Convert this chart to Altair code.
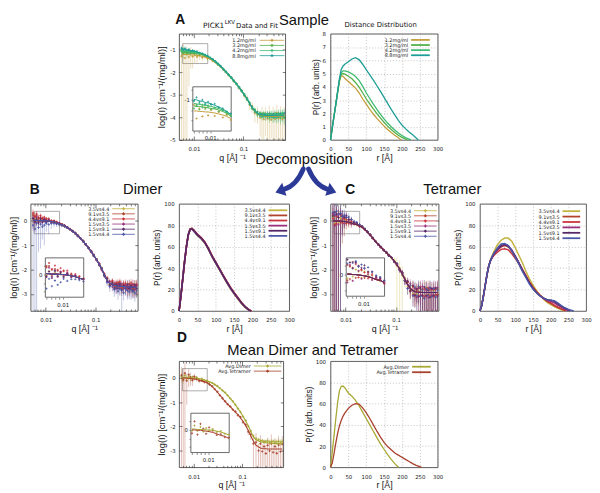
import math
import altair as alt
import pandas as pd

FONT = "DejaVu Sans"
TFONT = "Liberation Sans"
ARROW_BLUE = "#2c3a97"

# ---------------- SAXS data (log(I) vs q) ----------------
Q = [0.0056, 0.0061, 0.0066, 0.0072, 0.0079, 0.0086, 0.0094, 0.0103, 0.0115, 0.0130,
     0.0147, 0.0166, 0.0188, 0.0212, 0.0240, 0.0271, 0.0306, 0.0346, 0.0391, 0.0442,
     0.0500, 0.0565, 0.0638, 0.0721, 0.0815, 0.0921, 0.104, 0.118, 0.133, 0.150,
     0.170, 0.192, 0.217, 0.237, 0.258, 0.281, 0.306, 0.334, 0.364, 0.397,
     0.433, 0.472, 0.514, 0.560, 0.611, 0.666]

A_NAMES = ["1.2mg/ml", "3.2mg/ml", "4.2mg/ml", "8.8mg/ml"]
A_COLORS = ["#c49c3a", "#52b048", "#3dbb72", "#1d9d95"]

A_FIT = {
    "1.2mg/ml": [-1.22, -1.22, -1.22, -1.23, -1.23, -1.24, -1.24, -1.25, -1.26, -1.28,
                 -1.30, -1.33, -1.37, -1.42, -1.49, -1.57, -1.66, -1.77, -1.88, -2.00,
                 -2.12, -2.25, -2.39, -2.53, -2.68, -2.84, -3.01, -3.19, -3.39, -3.58,
                 -3.74, -3.85, -3.90, -3.92, -3.94, -3.95, -3.96, -3.96, -3.96, -3.96,
                 -3.96, -3.95, -3.95, -3.95, -3.95, -3.95],
    "3.2mg/ml": [-1.12, -1.12, -1.13, -1.13, -1.14, -1.15, -1.16, -1.17, -1.18, -1.20,
                 -1.23, -1.27, -1.32, -1.38, -1.46, -1.55, -1.65, -1.76, -1.87, -1.99,
                 -2.12, -2.25, -2.38, -2.52, -2.67, -2.83, -3.00, -3.18, -3.38, -3.57,
                 -3.72, -3.83, -3.88, -3.90, -3.91, -3.92, -3.93, -3.93, -3.93, -3.93,
                 -3.92, -3.92, -3.91, -3.91, -3.91, -3.91],
    "4.2mg/ml": [-1.06, -1.07, -1.08, -1.09, -1.10, -1.11, -1.12, -1.13, -1.15, -1.17,
                 -1.20, -1.25, -1.30, -1.37, -1.45, -1.54, -1.64, -1.75, -1.87, -1.99,
                 -2.11, -2.24, -2.38, -2.52, -2.67, -2.83, -3.00, -3.18, -3.38, -3.57,
                 -3.72, -3.82, -3.87, -3.89, -3.90, -3.91, -3.92, -3.92, -3.92, -3.92,
                 -3.92, -3.91, -3.91, -3.90, -3.90, -3.90],
    "8.8mg/ml": [-0.98, -0.99, -1.00, -1.02, -1.03, -1.05, -1.06, -1.08, -1.11, -1.14,
                 -1.18, -1.23, -1.29, -1.36, -1.44, -1.53, -1.63, -1.74, -1.86, -1.98,
                 -2.11, -2.24, -2.38, -2.52, -2.67, -2.83, -3.00, -3.18, -3.38, -3.57,
                 -3.72, -3.82, -3.87, -3.89, -3.90, -3.91, -3.92, -3.92, -3.92, -3.92,
                 -3.91, -3.91, -3.90, -3.90, -3.90, -3.90],
}
# measured scatter of the points around the fit (hundredths of a log unit)
A_DEV = {
    "1.2mg/ml": [-8, 12, -15, 6, -10, 9, -7, 5, -6, 4, -5, 3, -3, 2, -2, 1, -1, 2, -1, 1,
                 -1, 2, -2, 2, -3, 3, -4, 5, -6, 7, -8, 10, -12, 9, -14, 11, -10, 13, -15, 9,
                 -12, 14, -9, 12, -13, 10],
    "3.2mg/ml": [6, -5, 3, -6, 4, -3, 5, -2, 2, -3, 2, -1, 1, -2, 1, 1, -1, 0, -1, 1,
                 -1, 1, 0, -1, 1, -2, 2, -3, 3, -4, 6, -7, 5, -8, 9, -6, 7, -10, 8, -7,
                 10, -9, 7, -11, 8, -10],
    "4.2mg/ml": [-3, 5, -4, 2, -5, 3, -2, 4, -1, 2, -1, 1, -2, 1, 0, -1, 1, 0, 1, -1,
                 0, 1, -1, 1, 0, -1, 2, -2, 3, -3, 5, -4, 6, -7, 5, -6, 8, -5, 7, -9,
                 6, -8, 9, -6, 8, -7],
    "8.8mg/ml": [4, -3, 5, -2, 3, -4, 2, -1, 3, -2, 1, -1, 2, -1, 1, 0, -1, 1, 0, -1,
                 1, -1, 1, 0, -1, 1, -2, 2, -3, 3, -4, 5, -6, 4, -7, 6, -5, 8, -6, 7,
                 -9, 6, -8, 7, -5, 9],
}
# relative error of each point (percent)
A_REL = {
    "1.2mg/ml": [130, 115, 140, 105, 95, 80, 70, 60, 50, 40, 32, 26, 20, 16, 13, 11, 10, 9, 9, 9,
                 10, 11, 12, 14, 16, 20, 25, 32, 40, 50, 60, 70, 85, 95, 110, 90, 105, 120, 85, 115,
                 100, 125, 90, 110, 130, 95],
    "3.2mg/ml": [45, 40, 35, 30, 25, 20, 16, 13, 10, 8, 7, 6, 5, 5, 4, 4, 4, 4, 4, 4,
                 5, 5, 6, 7, 8, 10, 12, 14, 17, 20, 24, 27, 30, 32, 34, 36, 38, 40, 42, 44,
                 46, 48, 50, 52, 54, 56],
    "4.2mg/ml": [35, 30, 26, 22, 18, 15, 12, 10, 8, 6, 5, 5, 4, 4, 4, 3, 3, 3, 3, 3,
                 4, 4, 5, 5, 6, 7, 9, 11, 13, 16, 19, 22, 25, 27, 29, 31, 33, 35, 37, 39,
                 41, 43, 45, 47, 49, 51],
    "8.8mg/ml": [30, 25, 22, 18, 15, 12, 10, 8, 6, 5, 4, 4, 3, 3, 3, 3, 3, 3, 3, 3,
                 3, 4, 4, 5, 5, 6, 8, 10, 12, 14, 17, 20, 22, 24, 26, 28, 30, 32, 34, 36,
                 38, 40, 42, 44, 46, 48],
}

DIMER_FIT = [0.02, 0.02, 0.02, 0.01, 0.01, 0.01, 0.00, 0.00, -0.01, -0.03,
             -0.05, -0.08, -0.12, -0.16, -0.21, -0.27, -0.34, -0.42, -0.51, -0.61,
             -0.72, -0.84, -0.97, -1.11, -1.26, -1.42, -1.59, -1.78, -1.98, -2.22,
             -2.44, -2.56, -2.61, -2.64, -2.66, -2.67, -2.68, -2.69, -2.70, -2.70,
             -2.71, -2.71, -2.72, -2.72, -2.72, -2.72]
TETRAMER_FIT = [0.00, 0.00, 0.00, -0.01, -0.01, -0.02, -0.03, -0.04, -0.06, -0.09,
                -0.13, -0.15, -0.20, -0.26, -0.35, -0.46, -0.58, -0.71, -0.84, -0.97,
                -1.08, -1.19, -1.30, -1.41, -1.52, -1.65, -1.80, -1.98, -2.18, -2.40,
                -2.62, -2.78, -2.86, -2.90, -2.92, -2.93, -2.93, -2.94, -2.94, -2.94,
                -2.94, -2.94, -2.94, -2.94, -2.94, -2.94]

BC_NAMES = ["3.5vs4.4", "9.1vs3.5", "4.4vs9.1", "1.5vs3.5", "1.5vs9.1", "1.5vs4.4"]
BC_COLORS = ["#c2b33f", "#b2432b", "#c9343c", "#9a2f7c", "#552668", "#4957a6"]

B_DEV = {
    "3.5vs4.4": [5, -4, 6, -3, 4, -2, 3, -2, 2, -1, 1, -1, 1, 0, -1, 1, 0, -1, 1, 0,
                 -1, 1, 0, -1, 1, -1, 2, -2, 2, -3, 4, -5, 6, -4, 7, -6, 5, -8, 6, -7,
                 9, -6, 8, -7, 6, -9],
    "9.1vs3.5": [22, 15, 18, 10, 12, 8, 6, 9, 4, 3, 2, 3, 1, 2, 0, 1, -1, 1, 0, 1,
                 -1, 1, 0, -1, 2, -1, 2, -3, 3, -2, 8, -4, 12, 6, -5, 14, 9, -6, 11, 4,
                 -8, 13, 7, -5, 10, 6],
    "4.4vs9.1": [30, 18, 25, 12, 20, 10, 15, 8, 10, 5, 6, 4, 3, 2, 2, 1, 1, 0, 1, -1,
                 1, 0, -1, 1, -2, 2, -2, 3, -3, 4, 10, 5, 15, -3, 12, 8, 18, -4, 9, 14,
                 6, -5, 16, 10, -3, 12],
    "1.5vs3.5": [10, -8, 14, -5, 9, -6, 7, -4, 5, -3, 3, -2, 2, -1, 1, 0, -1, 1, 0, -1,
                 1, -1, 1, 0, -1, 2, -2, 3, -3, 4, -6, 8, -10, 5, -12, 7, -9, 11, -8, 6,
                 -11, 9, -7, 12, -10, 8],
    "1.5vs9.1": [8, -6, 5, -9, 7, -5, 4, -6, 3, -2, 2, -2, 1, -1, 1, 0, 0, -1, 1, 0,
                 -1, 1, -1, 1, 0, -1, 2, -2, 3, -3, 5, -9, 7, -12, 6, -10, 9, -14, 5, -8,
                 11, -7, 6, -12, 9, -6],
    "1.5vs4.4": [-20, -35, -12, -28, -15, -25, -18, -10, -14, -8, -6, -5, -4, -3, -2, -2, -1, -1, 0, -1,
                 0, -1, 1, -1, 0, -2, 1, -2, 2, -3, -8, -14, -6, -18, -10, -22, -12, -16, -25, -9,
                 -15, -20, -11, -18, -24, -13],
}
B_REL = {
    "3.5vs4.4": [40, 35, 30, 26, 22, 18, 15, 12, 10, 8, 6, 5, 5, 4, 4, 4, 3, 3, 3, 3,
                 3, 4, 4, 5, 6, 7, 8, 10, 12, 15, 20, 24, 28, 30, 32, 34, 36, 38, 40, 42,
                 44, 46, 48, 50, 52, 54],
    "9.1vs3.5": [50, 45, 40, 35, 30, 25, 20, 16, 13, 10, 8, 7, 6, 5, 5, 4, 4, 4, 3, 3,
                 4, 4, 5, 5, 6, 8, 10, 12, 15, 18, 22, 26, 30, 34, 36, 38, 40, 42, 44, 46,
                 48, 50, 52, 54, 56, 58],
    "4.4vs9.1": [45, 40, 36, 32, 28, 24, 20, 16, 13, 10, 8, 7, 6, 5, 5, 4, 4, 4, 3, 3,
                 4, 4, 5, 5, 6, 8, 10, 12, 15, 18, 22, 25, 28, 32, 35, 38, 40, 42, 44, 46,
                 48, 50, 52, 54, 56, 58],
    "1.5vs3.5": [70, 60, 55, 45, 40, 32, 26, 20, 16, 12, 10, 8, 7, 6, 5, 5, 4, 4, 4, 4,
                 4, 5, 5, 6, 7, 9, 11, 13, 16, 20, 26, 30, 34, 38, 40, 42, 44, 46, 48, 50,
                 52, 54, 55, 56, 57, 58],
    "1.5vs9.1": [60, 55, 48, 42, 36, 30, 24, 19, 15, 12, 10, 8, 7, 6, 5, 5, 4, 4, 4, 4,
                 4, 5, 5, 6, 7, 9, 11, 13, 16, 20, 25, 28, 32, 35, 38, 40, 42, 44, 46, 48,
                 50, 52, 53, 54, 55, 56],
    "1.5vs4.4": [180, 140, 160, 90, 90, 70, 85, 55, 60, 40, 30, 25, 20, 16, 12, 10, 8, 7, 6, 6,
                 6, 6, 7, 8, 9, 11, 13, 15, 18, 22, 30, 40, 35, 50, 45, 55, 48, 110, 52, 45,
                 58, 50, 62, 48, 56, 52],
}

C_DEV = {
    "3.5vs4.4": [15, -10, 20, -5, 12, 8, -6, 10, 4, -3, 3, -2, 2, -1, 1, 0, 1, -1, 0, 1,
                 -1, 1, -1, 2, -2, 3, -4, 5, -6, 4, -8, 10, -12, 15, -9, 13, -16, 11, -14, 18,
                 -10, 12, -15, 9, -13, 16],
    "9.1vs3.5": [25, -15, 18, 30, -8, 20, 12, -5, 10, 6, 4, 2, -2, 2, -1, 1, 0, -1, 1, 0,
                 1, -1, 1, -1, 2, -2, 3, -3, 4, -5, 10, -12, 15, -18, 8, 20, -14, 12, -20, 16,
                 -10, 18, -15, 12, -8, 14],
    "4.4vs9.1": [10, 22, -12, 16, 25, -6, 14, 8, -4, 9, 3, 5, -2, 3, -1, 1, 0, 1, -1, 0,
                 1, -1, 2, -1, 1, -2, 2, -3, 5, -4, 12, -8, 18, -14, 10, -16, 22, -10, 15, -12,
                 19, -14, 11, -17, 13, -9],
    "1.5vs3.5": [30, -20, 22, -15, 28, 10, -8, 18, 6, -5, 4, 3, -2, 2, 1, -1, 1, 0, -1, 1,
                 -1, 1, 0, -1, 2, -2, 3, -4, 4, -5, -15, 20, -18, 12, -22, 16, -12, 24, -16, 10,
                 -20, 14, -10, 18, -14, 20],
    "1.5vs9.1": [20, 35, 28, 15, 30, 22, 18, 25, 12, 15, 8, 6, 4, 3, 2, 1, 1, 0, -1, 1,
                 0, -1, 1, -2, 2, -2, 3, -3, 4, -6, 14, -10, 20, -16, 12, -18, 16, -12, 22, -14,
                 10, -20, 16, -12, 18, -15],
    "1.5vs4.4": [35, 25, 40, 28, 32, 20, 26, 18, 22, 14, 10, 8, 5, 4, 3, 2, 1, 1, 0, -1,
                 1, -1, 1, -2, 2, -3, 3, -4, 5, -6, -16, 12, -22, 18, -14, 24, -18, 10, -25, 15,
                 -12, 20, -17, 14, -21, 11],
}
C_REL = {
    "3.5vs4.4": [150, 120, 180, 110, 140, 90, 70, 60, 45, 30, 22, 16, 12, 10, 8, 7, 6, 6, 6, 6,
                 7, 8, 9, 11, 14, 30, 120, 105, 140, 60, 50, 55, 60, 65, 70, 75, 80, 85, 90, 95,
                 90, 85, 95, 80, 90, 100],
    "9.1vs3.5": [200, 160, 130, 110, 90, 75, 60, 45, 35, 25, 18, 14, 11, 9, 7, 6, 6, 5, 5, 5,
                 6, 7, 8, 9, 11, 13, 16, 20, 25, 30, 40, 50, 60, 65, 70, 75, 80, 85, 90, 95,
                 100, 90, 95, 85, 100, 90],
    "4.4vs9.1": [170, 150, 120, 100, 85, 70, 55, 42, 32, 24, 18, 14, 11, 9, 7, 6, 6, 5, 5, 5,
                 6, 7, 8, 9, 11, 13, 16, 20, 25, 30, 40, 50, 60, 65, 70, 75, 80, 85, 90, 95,
                 100, 90, 95, 85, 100, 90],
    "1.5vs3.5": [220, 180, 160, 130, 110, 90, 70, 55, 40, 30, 22, 16, 12, 10, 8, 7, 6, 6, 6, 6,
                 7, 8, 9, 10, 12, 14, 17, 21, 26, 32, 45, 55, 65, 70, 75, 80, 85, 90, 95, 100,
                 95, 100, 90, 105, 95, 100],
    "1.5vs9.1": [190, 150, 140, 120, 100, 80, 65, 50, 38, 28, 20, 15, 12, 10, 8, 7, 6, 6, 6, 6,
                 7, 8, 9, 10, 12, 14, 17, 21, 26, 32, 45, 55, 65, 70, 75, 80, 85, 90, 95, 100,
                 95, 100, 90, 105, 95, 100],
    "1.5vs4.4": [210, 170, 150, 120, 105, 85, 70, 55, 42, 32, 24, 18, 14, 11, 9, 8, 7, 6, 6, 6,
                 7, 8, 9, 11, 13, 15, 18, 22, 27, 33, 45, 55, 65, 70, 75, 80, 85, 90, 95, 100,
                 95, 100, 90, 105, 95, 100],
}

D_NAMES = ["Avg.Dimer", "Avg.Tetramer"]
D_COLORS = ["#a7a733", "#a8402c"]
D_DEV = {
    "Avg.Dimer": [5, -4, 8, -3, 6, -5, 4, -2, 3, -2, 2, -1, 1, -1, 1, 0, 1, 0, -1, 1,
                  0, -1, 1, 0, -1, 1, -1, 2, -2, 3, 4, 5, 6, 3, 7, 4, 6, 8, 5, 7,
                  9, 6, 8, 10, 7, 9],
    "Avg.Tetramer": [12, -8, 20, -10, 15, 5, -6, 10, 4, -3, 3, -2, 2, -1, 1, 0, 1, -1, 0, 1,
                     -1, 1, -1, 2, -2, 3, -3, 4, -5, 6, -10, 12, -15, 18, -12, 9, -20, 15, -8, 22,
                     -14, 10, -18, 16, -11, 20],
}
D_REL = {
    "Avg.Dimer": [45, 40, 35, 30, 25, 20, 16, 13, 10, 8, 6, 5, 5, 4, 4, 3, 3, 3, 3, 3,
                  3, 3, 4, 4, 5, 6, 7, 8, 10, 12, 14, 16, 18, 19, 20, 21, 22, 23, 24, 25,
                  26, 27, 28, 29, 30, 31],
    "Avg.Tetramer": [120, 200, 180, 90, 70, 55, 42, 32, 25, 20, 15, 12, 10, 8, 7, 6, 5, 5, 5, 5,
                     6, 7, 8, 9, 11, 13, 16, 20, 26, 40, 130, 140, 90, 120, 100, 85, 130, 110, 95, 140,
                     105, 120, 90, 135, 100, 115],
}

# ---------------- P(r) data ----------------
R_BASE = [0, 5, 10, 15, 20, 25, 30, 35, 40, 50, 60, 70, 80, 90, 100, 110, 120, 130, 140,
          150, 160, 170, 180, 190, 200, 210, 220, 230, 240, 250, 260]

PR_A = {  # (Dmax, values on R_BASE below Dmax)
    "1.2mg/ml": (198, [0, 0.9, 1.8, 2.7, 3.6, 4.4, 4.85, 4.8, 4.65, 4.4, 4.15, 3.9, 3.55, 3.1,
                       2.7, 2.3, 1.95, 1.62, 1.32, 1.04, 0.78, 0.55, 0.35, 0.16]),
    "3.2mg/ml": (215, [0, 0.9, 1.8, 2.7, 3.6, 4.45, 4.95, 5.0, 4.95, 4.8, 4.6, 4.33, 3.98, 3.55,
                       3.1, 2.72, 2.34, 1.98, 1.64, 1.33, 1.04, 0.78, 0.55, 0.35, 0.19, 0.07]),
    "4.2mg/ml": (225, [0, 0.9, 1.8, 2.7, 3.6, 4.5, 5.05, 5.2, 5.2, 5.12, 4.98, 4.78, 4.48, 4.05,
                       3.55, 3.12, 2.7, 2.3, 1.92, 1.58, 1.27, 0.99, 0.74, 0.52, 0.33, 0.17, 0.06]),
    "8.8mg/ml": (246, [0, 0.9, 1.8, 2.7, 3.65, 4.6, 5.3, 5.55, 5.7, 5.88, 6.1, 6.2, 6.05, 5.7,
                       5.3, 4.9, 4.5, 4.08, 3.65, 3.2, 2.75, 2.3, 1.88, 1.48, 1.12, 0.85, 0.6,
                       0.38, 0.14]),
}
PR_B = {
    "3.5vs4.4": (195, [0, 14, 30, 46, 60, 71, 76, 76.5, 75, 70.5, 67.5, 63.5, 57.5, 50.5, 44.5,
                       38.5, 32.5, 26.5, 21, 16, 11.5, 7, 3.4, 0.8]),
    "9.1vs3.5": (197, [0, 14, 30, 46, 60, 71, 76.5, 77, 75.5, 71.5, 68.5, 64.5, 58.5, 51.5, 45.5,
                       39.5, 33.5, 27.5, 22, 17, 12.5, 8, 4, 1.2]),
    "4.4vs9.1": (197, [0, 14, 30, 46, 60, 71, 76.5, 77, 75.5, 71.5, 68.5, 64.5, 58.5, 51.5, 45.5,
                       39.5, 33.5, 27.5, 22, 17, 12.5, 8, 4.1, 1.3]),
    "1.5vs3.5": (196, [0, 14, 30, 46, 60, 71, 76, 76.5, 75, 71, 68, 64, 58, 51, 45,
                       39, 33, 27, 21.5, 16.5, 12, 7.5, 3.8, 1.0]),
    "1.5vs9.1": (196, [0, 14, 30, 46, 60, 71, 76, 76.5, 75, 71, 68, 64, 58, 51, 45,
                       39, 33, 27, 21.5, 16.5, 12, 7.5, 3.8, 1.0]),
    "1.5vs4.4": (195, [0, 14, 30, 46, 60, 71, 76, 76.5, 74.5, 70.5, 67.5, 63.5, 57.5, 50.5, 44.5,
                       38.5, 32.5, 26.5, 21, 16, 11.5, 7.2, 3.5, 0.9]),
}
PR_C = {
    "3.5vs4.4": (238, [0, 5, 14, 24, 34, 42, 48, 52, 56, 62, 66, 68, 68, 65, 59, 52, 45, 37, 30,
                       24, 19, 15, 11, 8, 6, 4, 2.5, 1]),
    "9.1vs3.5": (240, [0, 5, 14, 24, 34, 42, 47, 50, 53, 57, 60, 61, 60, 56, 51, 45, 39, 33, 27,
                       22, 18, 14.5, 11.5, 9, 7, 5, 3.5, 2]),
    "4.4vs9.1": (242, [0, 5, 14, 24, 34, 42, 47, 50, 52, 55, 57.5, 58, 57, 53.5, 49, 44, 38, 32.5, 27,
                       22, 18, 14.5, 12, 9.5, 7.5, 5.5, 3.5, 2, 0.8]),
    "1.5vs3.5": (250, [0, 5, 14, 24, 34, 42, 47, 50, 53, 57, 60.5, 62, 61, 57, 51, 45, 38, 32, 26,
                       21, 17, 14, 11.5, 10, 9, 7.5, 5.5, 3.5, 1.8]),
    "1.5vs9.1": (255, [0, 5, 14, 24, 34, 42, 47, 51, 54, 58, 61, 62, 60.5, 56.5, 51, 45, 38, 32, 26,
                       21, 17, 14, 12, 10.5, 10, 9, 6.5, 4.5, 2.5, 1]),
    "1.5vs4.4": (265, [0, 5, 14, 24, 34, 42, 47, 51, 54, 59, 62.5, 63, 61, 56, 50, 44, 37, 31, 25,
                       20.5, 17, 14, 12, 10.5, 10, 9.5, 7.5, 5, 3, 1.5, 0.5]),
}
PR_D = {
    "Avg.Dimer": (190, [0, 14, 30, 46, 61, 72, 76, 76.5, 75, 70, 67, 63, 58, 52, 46, 40, 34, 28, 22,
                        17, 12, 7.5, 3.5]),
    "Avg.Tetramer": (255, [0, 4, 13, 23, 32, 39, 44, 48, 51, 55.5, 58.5, 60, 59.5, 56, 51.5, 46, 40,
                           34, 28.5, 23.5, 19.5, 16.5, 13.5, 11.5, 9.5, 7.5, 5.5, 3.5, 1.8, 0.6]),
}

XTICKS = [0.006, 0.007, 0.008, 0.009, 0.01, 0.02, 0.03, 0.04, 0.05, 0.06, 0.07, 0.08, 0.09,
          0.1, 0.2, 0.3, 0.4, 0.5, 0.6]
INSET_Q = [0.0059, 0.019]


def one(**kw):
    return pd.DataFrame({k: [v] for k, v in kw.items()})


def txt(s, x, y, size, font=TFONT, weight="normal", align="center", baseline="alphabetic", color="#111"):
    return alt.Chart(one(t=s)).mark_text(
        align=align, baseline=baseline, font=font, fontSize=size, fontWeight=weight, color=color
    ).encode(x=alt.value(x), y=alt.value(y), text="t:N")


def legend_layers(names, colors, leg, width, marker):
    tx, lx1, lx2, y0, dy = leg
    out = []
    for k, nm in enumerate(names):
        yk = y0 + k * dy
        df = one(label=nm)
        out.append(alt.Chart(df).mark_rule(strokeWidth=width, color=colors[k]).encode(
            x=alt.value(lx1), x2=alt.value(lx2), y=alt.value(yk)))
        out.append(alt.Chart(df).mark_text(align="right", baseline="middle", font=FONT, fontSize=5,
                                           color="#222").encode(
            x=alt.value(tx), y=alt.value(yk), text="label:N"))
        if marker:
            out.append(alt.Chart(df).mark_point(shape="cross", size=9, filled=True, opacity=1,
                                                color=colors[k]).encode(
                x=alt.value((lx1 + lx2) / 2), y=alt.value(yk)))
    return out


def saxs_panel(names, colors, fits, devs, rels, W, H, ydom, yvals, ibox, iydom, iyvals, ilabel,
               leg, annots, fit_order):
    cs = alt.Scale(domain=names, range=colors)
    xs = alt.Scale(type="log", domain=[0.005, 0.7], nice=False)
    ys = alt.Scale(domain=ydom, nice=False, zero=False)
    major = "datum.value == 0.01 || datum.value == 0.1"
    xa = alt.Axis(values=XTICKS,
                  labelExpr="datum.value == 0.01 ? '0.01' : (datum.value == 0.1 ? '0.1' : '')",
                  title="q [Å] ⁻¹", titleFontSize=9, labelPadding=7, titlePadding=1,
                  grid=True, gridColor="#222", gridWidth=0.6, gridOpacity=1,
                  gridDash={"condition": {"test": major, "value": [4, H - 8, 4, 600]},
                            "value": [2, H - 4, 2, 600]},
                  labelFlush=False, labelOverlap=False)
    ya = alt.Axis(values=yvals, labelExpr="'' + datum.value", title="log(I) [cm⁻¹/(mg/ml)]",
                  titleFontSize=9.5, labelPadding=4, titlePadding=3,
                  grid=True, gridColor="#222", gridWidth=0.6, gridOpacity=1,
                  gridDash=[3, W - 6, 3, 600], labelFlush=False, labelOverlap=False)

    prow, frow = [], []
    floor = ydom[0] - 1
    for nm in names:
        f, d, r = fits[nm], devs[nm], rels[nm]
        assert len(f) == len(Q) and len(d) == len(Q) and len(r) == len(Q), nm
        for i, q in enumerate(Q):
            y = f[i] + d[i] / 100.0
            rr = r[i] / 100.0
            hi = y + math.log10(1 + rr)
            lo = y + math.log10(1 - rr) if rr < 0.985 else floor
            prow.append({"series": nm, "q": q, "y": y, "lo": lo, "hi": hi})
            frow.append({"series": nm, "q": q, "y": f[i]})
    pts = pd.DataFrame(prow)
    fdf = pd.DataFrame(frow)
    col = alt.Color("series:N", scale=cs, legend=None)

    zr = alt.Chart(one(q1=INSET_Q[0], q2=INSET_Q[1], y1=iydom[0], y2=iydom[1])).mark_rect(
        fill="white", fillOpacity=0, stroke="#888", strokeWidth=0.7).encode(
        x=alt.X("q1:Q", scale=xs, axis=xa), x2="q2",
        y=alt.Y("y1:Q", scale=ys, axis=ya), y2="y2")
    eb = alt.Chart(pts).mark_rule(strokeWidth=0.55, opacity=0.6, clip=True).encode(
        x=alt.X("q:Q", scale=xs, axis=xa), y=alt.Y("lo:Q", scale=ys, axis=ya), y2="hi", color=col)
    pt = alt.Chart(pts).mark_point(shape="cross", size=6, filled=True, opacity=0.9, clip=True).encode(
        x=alt.X("q:Q", scale=xs, axis=xa), y=alt.Y("y:Q", scale=ys, axis=ya), color=col)
    fl = []
    for nm in fit_order:
        fl.append(alt.Chart(fdf[fdf.series == nm]).mark_line(
            strokeWidth=1.1, clip=True, color=colors[names.index(nm)]).encode(
            x=alt.X("q:Q", scale=xs, axis=xa), y=alt.Y("y:Q", scale=ys, axis=ya)))
    main = alt.layer(zr, eb, pt, *fl, *legend_layers(names, colors, leg, 0.8, True), *annots)

    # inset (zoom of the low-q region)
    ixs = alt.Scale(type="log", domain=INSET_Q, range=[ibox[0], ibox[1]], nice=False)
    iys = alt.Scale(domain=iydom, range=[ibox[3], ibox[2]], nice=False, zero=False)
    ixa = alt.Axis(orient="bottom", offset=-(H - ibox[3]), values=[0.006, 0.007, 0.008, 0.009, 0.01],
                   labelExpr="datum.value == 0.01 ? '0.01' : ''", title=None, grid=False,
                   ticks=True, tickSize=2, tickWidth=0.5, tickColor="#222", domain=False,
                   labelPadding=3, labelFlush=False, labelOverlap=False)
    iya = alt.Axis(orient="left", offset=-ibox[0], values=iyvals,
                   labelExpr="datum.value == %s ? '%s' : ''" % (ilabel, ilabel), title=None, grid=False,
                   ticks=True, tickSize=2, tickWidth=0.5, tickColor="#222", domain=False,
                   labelPadding=1.5, labelFlush=False, labelOverlap=False)
    ifr = alt.Chart(one(q1=INSET_Q[0], q2=INSET_Q[1], y1=iydom[0], y2=iydom[1])).mark_rect(
        fill="white", stroke="#444", strokeWidth=0.8).encode(
        x=alt.X("q1:Q", scale=ixs, axis=ixa), x2="q2",
        y=alt.Y("y1:Q", scale=iys, axis=iya), y2="y2")
    ip = pts[(pts.q >= INSET_Q[0]) & (pts.q <= INSET_Q[1]) & (pts.y >= iydom[0]) & (pts.y <= iydom[1])]
    ipt = alt.Chart(ip).mark_point(shape="cross", size=5, filled=True, opacity=0.9).encode(
        x=alt.X("q:Q", scale=ixs, axis=ixa), y=alt.Y("y:Q", scale=iys, axis=iya), color=col)
    ifl = []
    for nm in fit_order:
        sub = fdf[(fdf.series == nm) & (fdf.q >= INSET_Q[0]) & (fdf.q <= INSET_Q[1])]
        ifl.append(alt.Chart(sub).mark_line(strokeWidth=1.0, color=colors[names.index(nm)]).encode(
            x=alt.X("q:Q", scale=ixs, axis=ixa), y=alt.Y("y:Q", scale=iys, axis=iya)))
    inset = alt.layer(ifr, ipt, *ifl)
    return alt.layer(main, inset).resolve_scale(x="independent", y="independent").properties(
        width=W, height=H)


def pr_panel(names, colors, data, W, H, ymax, yvals, leg, annots, order, lw=1.3):
    xs = alt.Scale(domain=[0, 300], nice=False, zero=False)
    ys = alt.Scale(domain=[0, ymax], nice=False, zero=False)
    xa = alt.Axis(values=[0, 50, 100, 150, 200, 250, 300], format="d", title="r [Å]", titleFontSize=9,
                  labelPadding=7, titlePadding=1, grid=True, gridDash=[1, 2], gridColor="#888",
                  gridWidth=0.5, labelFlush=False, labelOverlap=False)
    ya = alt.Axis(values=yvals, format="d", title="P(r) (arb. units)", titleFontSize=8.5,
                  labelPadding=5, titlePadding=2, grid=True, gridDash=[1, 2], gridColor="#888",
                  gridWidth=0.5, labelFlush=False, labelOverlap=False)
    layers = []
    for nm in order:
        dmax, vals = data[nm]
        rs = [r for r in R_BASE if r < dmax]
        assert len(rs) == len(vals), nm
        df = pd.DataFrame({"r": rs + [dmax], "p": list(vals) + [0.0]})
        layers.append(alt.Chart(df).mark_line(strokeWidth=lw, color=colors[names.index(nm)]).encode(
            x=alt.X("r:Q", scale=xs, axis=xa), y=alt.Y("p:Q", scale=ys, axis=ya)))
    return alt.layer(*layers, *legend_layers(names, colors, leg, 1.8, False), *annots).properties(
        width=W, height=H)


# ---------------- decorations ----------------
ARROW_STROKE = "M -0.1 -0.45 Q -0.35 0.15 -0.8 0.3 M 0.1 -0.45 Q 0.35 0.15 0.8 0.3"
ARROW_HEADS = "M -1.13 0.42 L -0.72 0.54 L -0.88 0.06 Z M 1.13 0.42 L 0.72 0.54 L 0.88 0.06 Z"
arrow_body = alt.Chart(one(a=0)).mark_point(shape=ARROW_STROKE, size=3000, filled=False, opacity=1,
                                            stroke=ARROW_BLUE, strokeWidth=5, strokeCap="round").encode(
    x=alt.value(129), y=alt.value(150))
arrow_heads = alt.Chart(one(a=0)).mark_point(shape=ARROW_HEADS, size=3000, filled=True, opacity=1,
                                             color=ARROW_BLUE).encode(x=alt.value(129), y=alt.value(150))

A_left = saxs_panel(
    A_NAMES, A_COLORS, A_FIT, A_DEV, A_REL, 108, 108, [-5, -0.3], [-5, -4, -3, -2, -1],
    [14, 53, 54, 99], [-1.62, -0.74], [-1.4, -1.2, -1.0, -0.8], -1,
    (78, 82, 107, 6.7, 5.2),
    [txt("A", -4, -21, 14, weight="bold", align="left", baseline="top"),
     txt("Sample", 127, -21, 15, baseline="top"),
     txt("PICK1", 46, -6, 7.5, font=FONT, align="right"),
     txt("LKV", 46.5, -10, 5.5, font=FONT, align="left"),
     txt("Data and Fit", 58, -6, 7, font=FONT, align="left"),
     txt("Decomposition", 127, 133, 15),
     arrow_body, arrow_heads],
    A_NAMES)
A_right = pr_panel(
    A_NAMES, A_COLORS, PR_A, 109, 108, 8, [0, 1, 2, 3, 4, 5, 6, 7, 8], (79, 82, 101, 6.3, 5.2),
    [txt("Distance Distribution", 51, -7, 7, font=FONT)], A_NAMES)

B_left = saxs_panel(
    BC_NAMES, BC_COLORS, {n: DIMER_FIT for n in BC_NAMES}, B_DEV, B_REL, 109, 109, [-3.7, 0.7],
    [-3, -2, -1, 0], [15, 54, 55, 95], [-0.53, 0.39], [-0.4, -0.2, 0, 0.2], 0,
    (80, 83, 106, 5, 5.2),
    [txt("B", -1, -10, 14, weight="bold", align="left"),
     txt("Dimer", 114, -10, 15)],
    BC_NAMES)
B_right = pr_panel(
    BC_NAMES, BC_COLORS, PR_B, 112, 109, 100, [0, 20, 40, 60, 80, 100], (88, 91, 110, 6.6, 5.2),
    [], ["1.5vs4.4", "3.5vs4.4", "4.4vs9.1", "9.1vs3.5", "1.5vs3.5", "1.5vs9.1"], lw=1.6)
C_order = ["3.5vs4.4", "1.5vs4.4", "1.5vs3.5", "4.4vs9.1", "9.1vs3.5", "1.5vs9.1"]
C_left = saxs_panel(
    BC_NAMES, BC_COLORS, {n: TETRAMER_FIT for n in BC_NAMES}, C_DEV, C_REL, 110, 109, [-3.7, 0.7],
    [-3, -2, -1, 0], [16, 55, 55, 94], [-0.53, 0.39], [-0.4, -0.2, 0, 0.2], 0,
    (82, 85, 108, 7, 5.2),
    [txt("C", 15, -10, 14, weight="bold", align="left"),
     txt("Tetramer", 124, -10, 15)],
    C_order)
C_right = pr_panel(
    BC_NAMES, BC_COLORS, PR_C, 108, 109, 100, [0, 20, 40, 60, 80, 100], (81, 84, 102, 7.5, 5.5),
    [], BC_NAMES, lw=1.5)

D_left = saxs_panel(
    D_NAMES, D_COLORS, {"Avg.Dimer": DIMER_FIT, "Avg.Tetramer": TETRAMER_FIT}, D_DEV, D_REL,
    106, 108, [-3.7, 0.7], [-3, -2, -1, 0], [12, 51, 53, 93], [-0.53, 0.39], [-0.4, -0.2, 0, 0.2], 0,
    (73, 76, 104, 5, 5.2),
    [txt("D", -2, -19, 14, weight="bold", align="left"),
     txt("Mean Dimer and Tetramer", 136, -6, 15)],
    D_NAMES)
D_right = pr_panel(
    D_NAMES, D_COLORS, PR_D, 109, 108, 100, [0, 20, 40, 60, 80, 100], (80, 83, 102, 5.7, 5.6),
    [], D_NAMES)


def blank(w, h):
    return alt.Chart(one(a=0)).mark_point(opacity=0).encode(
        x=alt.value(0), y=alt.value(0)).properties(width=w, height=h, view=alt.ViewBackground(strokeOpacity=0))


chart = alt.concat(
    blank(20, 122), A_left, A_right, blank(20, 10),
    B_left, B_right, C_left, C_right,
    blank(20, 10), D_left, D_right, blank(20, 10),
    columns=4, spacing={"row": 51, "column": 42}, bounds="flush",
).resolve_scale(color="independent").properties(padding=0).configure_view(
    stroke="#333", strokeWidth=0.8
).configure_axis(
    labelFont=FONT, labelFontSize=5.5, labelColor="#222", titleFont=TFONT, titleFontWeight="normal",
    titleColor="#111", domain=False, ticks=False, tickSize=0
)

chart.save("out.html", embed_options={"renderer": "svg", "actions": False})
